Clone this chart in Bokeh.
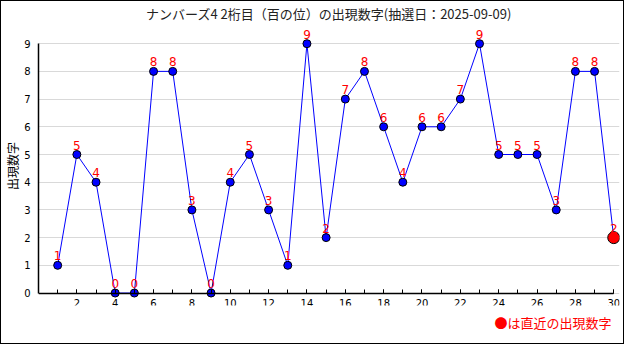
from bokeh.plotting import figure
from bokeh.models import Range1d, FixedTicker, Title, ColumnDataSource
from bokeh.core.properties import value
from bokeh.embed import file_html
from bokeh.resources import INLINE

# ---- data ----
draws = list(range(1, 31))
digits = [1, 5, 4, 0, 0, 8, 8, 3, 0, 4, 5, 3, 1, 9, 2, 7, 8, 6, 4, 6, 6, 7, 9, 5, 5, 5, 3, 8, 8, 2]
x_tick_labels = list(range(2, 31, 2))
y_ticks = list(range(0, 10))
title_text = "ナンバーズ4 2桁目（百の位）の出現数字(抽選日：2025-09-09)"
y_label = "出現数字"
legend_text = "●は直近の出現数字"

JP = "Noto Sans CJK JP"

src = ColumnDataSource(dict(x=draws, y=digits, t=[str(d) for d in digits]))
last = ColumnDataSource(dict(x=draws[-1:], y=digits[-1:]))
prev = ColumnDataSource(dict(x=draws[:-1], y=digits[:-1]))

p = figure(width=624, height=344, output_backend="svg", toolbar_location=None,
           x_range=Range1d(0, 30.3), y_range=Range1d(-0.45, 9.62),
           min_border_left=30, min_border_right=6, min_border_top=24, min_border_bottom=40)
p.title = Title(text=title_text, align="center", vertical_align="top", text_font=JP,
                text_font_size="13px", text_font_style="normal", text_color="#222222",
                standoff=4)
p.add_layout(Title(text=legend_text, align="right", text_font=JP, text_font_size="13px",
                   text_font_style="normal", text_color="red", standoff=10, offset=8), "below")
p.outline_line_color = None
p.background_fill_color = "white"
p.border_fill_color = "white"
p.styles = {"border": "1px solid black", "box-sizing": "border-box"}

# axes
p.xaxis.ticker = FixedTicker(ticks=x_tick_labels, minor_ticks=draws)
p.xaxis.bounds = (0, 30)
p.xaxis.fixed_location = 0
p.xaxis.major_tick_in = 4
p.xaxis.major_tick_out = 0
p.xaxis.minor_tick_in = 4
p.xaxis.minor_tick_out = 0
p.xaxis.axis_line_width = 1.5
p.xaxis.major_label_standoff = 6
p.yaxis.ticker = FixedTicker(ticks=y_ticks)
p.yaxis.bounds = (0, 9)
p.yaxis.major_tick_in = 0
p.yaxis.major_tick_out = 0
p.yaxis.minor_tick_in = 0
p.yaxis.minor_tick_out = 0
p.yaxis.axis_line_width = 1.5
p.yaxis.major_label_standoff = 8
p.yaxis.axis_label = y_label
p.yaxis.axis_label_text_font = JP
p.yaxis.axis_label_text_font_size = "12px"
p.yaxis.axis_label_text_font_style = "normal"
p.yaxis.axis_label_text_color = "black"
p.yaxis.axis_label_standoff = 0
for ax in (p.xaxis, p.yaxis):
    ax.axis_line_color = "black"
    ax.major_tick_line_color = "black"
    ax.minor_tick_line_color = "black"
    ax.major_label_text_font = "DejaVu Sans"
    ax.major_label_text_font_size = "10px"
    ax.major_label_text_color = "black"

p.xgrid.visible = False
p.ygrid.grid_line_color = "#d9d9d9"
p.ygrid.grid_line_width = 1

p.line("x", "y", source=src, line_color="blue", line_width=1)
p.scatter("x", "y", source=prev, size=8, fill_color="blue", line_color="black", line_width=1)
p.scatter("x", "y", source=last, size=12, fill_color="red", line_color="black", line_width=1)
p.text("x", "y", text="t", source=src, text_align="center", text_baseline="bottom",
       y_offset=-5, text_color="red", text_font=value("DejaVu Sans"), text_font_size="12px")

open("out.html", "w").write(file_html(p, INLINE))
